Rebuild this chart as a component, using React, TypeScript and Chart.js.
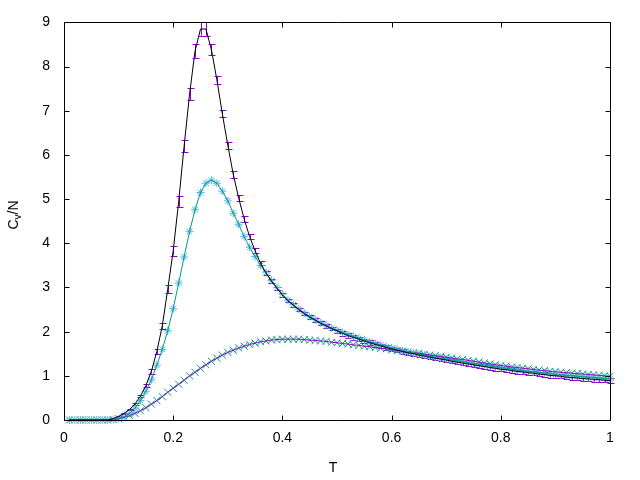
import React, { useEffect, useRef } from "react";
import { Chart, registerables } from "chart.js";

Chart.register(...registerables);

// Temperature grid (x values)
const T = [
  0.01, 0.02, 0.03, 0.04, 0.05, 0.06, 0.07, 0.08, 0.09, 0.1,
  0.11, 0.12, 0.13, 0.14, 0.15, 0.16, 0.17, 0.18, 0.19, 0.2,
  0.21, 0.22, 0.23, 0.24, 0.25, 0.26, 0.27, 0.28, 0.29, 0.3,
  0.31, 0.32, 0.33, 0.34, 0.35, 0.36, 0.37, 0.38, 0.39, 0.4,
  0.41, 0.42, 0.43, 0.44, 0.45, 0.46, 0.47, 0.48, 0.49, 0.5,
  0.51, 0.52, 0.53, 0.54, 0.55, 0.56, 0.57, 0.58, 0.59, 0.6,
  0.61, 0.62, 0.63, 0.64, 0.65, 0.66, 0.67, 0.68, 0.69, 0.7,
  0.71, 0.72, 0.73, 0.74, 0.75, 0.76, 0.77, 0.78, 0.79, 0.8,
  0.81, 0.82, 0.83, 0.84, 0.85, 0.86, 0.87, 0.88, 0.89, 0.9,
  0.91, 0.92, 0.93, 0.94, 0.95, 0.96, 0.97, 0.98, 0.99, 1.0,
];

// Series A: purple error bars, black curve
const cvA = [
  0, 0, 0, 0, 0, 0, 0, 0, 0.03, 0.08,
  0.15, 0.24, 0.36, 0.54, 0.78, 1.10, 1.55, 2.13, 2.96, 3.83,
  4.94, 6.20, 7.38, 8.35, 8.85, 8.85, 8.38, 7.70, 6.93, 6.22,
  5.56, 5.02, 4.55, 4.15, 3.83, 3.55, 3.33, 3.14, 2.98, 2.83,
  2.70, 2.60, 2.50, 2.41, 2.33, 2.26, 2.19, 2.13, 2.07, 2.02,
  1.96, 1.91, 1.87, 1.83, 1.79, 1.75, 1.71, 1.68, 1.64, 1.61,
  1.58, 1.55, 1.52, 1.50, 1.47, 1.45, 1.42, 1.40, 1.38, 1.36,
  1.33, 1.31, 1.29, 1.27, 1.25, 1.23, 1.21, 1.19, 1.17, 1.15,
  1.14, 1.12, 1.10, 1.09, 1.07, 1.06, 1.04, 1.03, 1.01, 1.00,
  0.99, 0.97, 0.96, 0.95, 0.94, 0.93, 0.92, 0.91, 0.90, 0.89,
];

const errA = [
  0, 0, 0, 0, 0, 0, 0, 0, 0.005, 0.01,
  0.015, 0.02, 0.025, 0.03, 0.04, 0.05, 0.06, 0.07, 0.09, 0.11,
  0.12, 0.13, 0.14, 0.15, 0.15, 0.15, 0.12, 0.09, 0.08, 0.08,
  0.075, 0.07, 0.065, 0.06, 0.055, 0.05, 0.05, 0.045, 0.04, 0.04,
  0.04, 0.04, 0.04, 0.04, 0.04, 0.04, 0.04, 0.04, 0.04, 0.04,
  0.05, 0.05, 0.05, 0.05, 0.05, 0.05, 0.05, 0.05, 0.05, 0.05,
  0.05, 0.05, 0.05, 0.05, 0.05, 0.05, 0.05, 0.05, 0.05, 0.05,
  0.05, 0.05, 0.05, 0.05, 0.05, 0.05, 0.05, 0.05, 0.05, 0.05,
  0.05, 0.05, 0.05, 0.05, 0.05, 0.05, 0.05, 0.05, 0.05, 0.05,
  0.05, 0.05, 0.05, 0.05, 0.05, 0.05, 0.05, 0.05, 0.05, 0.05,
];

// Series B: cyan asterisks, teal curve
const cvB = [
  0, 0, 0, 0, 0, 0, 0, 0, 0.01, 0.03,
  0.07, 0.15, 0.27, 0.44, 0.65, 0.91, 1.24, 1.60, 2.02, 2.52,
  3.10, 3.69, 4.27, 4.76, 5.15, 5.36, 5.43, 5.36, 5.18, 4.96,
  4.68, 4.43, 4.15, 3.91, 3.70, 3.50, 3.33, 3.16, 3.00, 2.85,
  2.71, 2.61, 2.51, 2.42, 2.34, 2.27, 2.20, 2.14, 2.08, 2.03,
  1.98, 1.93, 1.89, 1.85, 1.81, 1.77, 1.73, 1.70, 1.66, 1.63,
  1.60, 1.57, 1.54, 1.52, 1.49, 1.47, 1.44, 1.42, 1.40, 1.38,
  1.36, 1.34, 1.32, 1.30, 1.28, 1.26, 1.24, 1.22, 1.20, 1.18,
  1.17, 1.15, 1.13, 1.12, 1.10, 1.09, 1.07, 1.06, 1.05, 1.03,
  1.02, 1.01, 1.00, 0.99, 0.98, 0.97, 0.96, 0.95, 0.94, 0.93,
];

// Series C: green crosses, purple curve
const cvC = [
  0, 0, 0, 0, 0, 0, 0, 0, 0.01, 0.03,
  0.06, 0.10, 0.15, 0.21, 0.28, 0.36, 0.44, 0.53, 0.63, 0.72,
  0.81, 0.90, 1.00, 1.08, 1.17, 1.25, 1.33, 1.40, 1.47, 1.53,
  1.58, 1.63, 1.67, 1.71, 1.74, 1.77, 1.79, 1.81, 1.82, 1.83,
  1.83, 1.83, 1.83, 1.82, 1.81, 1.80, 1.79, 1.78, 1.76, 1.75,
  1.73, 1.72, 1.70, 1.69, 1.67, 1.66, 1.64, 1.62, 1.61, 1.59,
  1.57, 1.56, 1.54, 1.52, 1.51, 1.49, 1.47, 1.46, 1.44, 1.42,
  1.40, 1.38, 1.37, 1.35, 1.33, 1.31, 1.29, 1.27, 1.25, 1.23,
  1.22, 1.20, 1.19, 1.17, 1.16, 1.14, 1.13, 1.12, 1.10, 1.09,
  1.08, 1.07, 1.06, 1.05, 1.04, 1.03, 1.02, 1.01, 1.00, 0.99,
];

const xTicks = [0, 0.2, 0.4, 0.6, 0.8, 1];
const yTicks = [0, 1, 2, 3, 4, 5, 6, 7, 8, 9];

const FONT = '"Liberation Sans", Arial, sans-serif';
const PURPLE = "#9400D3";
const GREEN = "#009E73";
const CYAN = "#56B4E9";

const pts = (ys: number[]) => T.map((t, i) => ({ x: t, y: ys[i] }));

const errorBars = {
  id: "errorBars",
  beforeDatasetsDraw(chart: any) {
    const ctx = chart.ctx;
    const xs = chart.scales.x;
    const ys = chart.scales.y;
    ctx.save();
    ctx.strokeStyle = PURPLE;
    ctx.lineWidth = 1;
    for (let i = 0; i < T.length; i++) {
      const e = errA[i];
      const x = Math.round(xs.getPixelForValue(T[i])) + 0.5;
      const y0 = ys.getPixelForValue(cvA[i] - e);
      const y1 = ys.getPixelForValue(cvA[i] + e);
      ctx.beginPath();
      ctx.moveTo(x, y0);
      ctx.lineTo(x, y1);
      ctx.moveTo(x - 3, Math.round(y0) + 0.5);
      ctx.lineTo(x + 4, Math.round(y0) + 0.5);
      ctx.moveTo(x - 3, Math.round(y1) + 0.5);
      ctx.lineTo(x + 4, Math.round(y1) + 0.5);
      ctx.stroke();
    }
    ctx.restore();
  },
};

const frame = {
  id: "frame",
  afterDraw(chart: any) {
    const ctx = chart.ctx;
    const a = chart.chartArea;
    const xs = chart.scales.x;
    const ys = chart.scales.y;
    const L = Math.round(a.left) + 0.5;
    const R = Math.round(a.right) + 0.5;
    const Tp = Math.round(a.top) + 0.5;
    const B = Math.round(a.bottom) + 0.5;
    const tl = 5;
    ctx.save();
    ctx.strokeStyle = "#000";
    ctx.lineWidth = 1;
    ctx.beginPath();
    ctx.rect(L, Tp, R - L, B - Tp);
    for (const v of xTicks) {
      const x = Math.round(xs.getPixelForValue(v)) + 0.5;
      ctx.moveTo(x, B);
      ctx.lineTo(x, B - tl);
      ctx.moveTo(x, Tp);
      ctx.lineTo(x, Tp + tl);
    }
    for (const v of yTicks) {
      const y = Math.round(ys.getPixelForValue(v)) + 0.5;
      ctx.moveTo(L, y);
      ctx.lineTo(L + tl, y);
      ctx.moveTo(R, y);
      ctx.lineTo(R - tl, y);
    }
    ctx.stroke();

    // axis titles
    ctx.fillStyle = "#000";
    ctx.font = `14px ${FONT}`;
    ctx.textAlign = "center";
    ctx.textBaseline = "alphabetic";
    ctx.fillText("T", 333, 472);

    ctx.translate(18, 215);
    ctx.rotate(-Math.PI / 2);
    const big = `14px ${FONT}`;
    const small = `10px ${FONT}`;
    ctx.font = big;
    const wC = ctx.measureText("C").width;
    const wN = ctx.measureText("/N").width;
    ctx.font = small;
    const wv = ctx.measureText("v").width;
    let x = -(wC + wv + wN) / 2;
    ctx.textAlign = "left";
    ctx.font = big;
    ctx.fillText("C", x, 0);
    x += wC;
    ctx.font = small;
    ctx.fillText("v", x, 3);
    x += wv;
    ctx.font = big;
    ctx.fillText("/N", x, 0);
    ctx.restore();
  },
};

export default function App() {
  const ref = useRef<HTMLCanvasElement | null>(null);
  useEffect(() => {
    if (!ref.current) return;
    const chart = new Chart(ref.current, {
      type: "scatter",
      data: {
        datasets: [
          { label: "fit A", data: pts(cvA), showLine: true, borderColor: "#000", borderWidth: 1, pointRadius: 0, order: 0 },
          { label: "fit B", data: pts(cvB), showLine: true, borderColor: GREEN, borderWidth: 1, pointRadius: 0, order: 1 },
          { label: "fit C", data: pts(cvC), showLine: true, borderColor: PURPLE, borderWidth: 1, pointRadius: 0, order: 2 },
          { label: "B", data: pts(cvB), showLine: false, pointStyle: "star", pointRadius: 4, pointBorderColor: CYAN, pointBackgroundColor: CYAN, pointBorderWidth: 1, order: 3, clip: 8 } as any,
          { label: "C", data: pts(cvC), showLine: false, pointStyle: "crossRot", pointRadius: 5, pointBorderColor: GREEN, pointBackgroundColor: GREEN, pointBorderWidth: 1, order: 4, clip: 8 } as any,
        ],
      },
      options: {
        animation: false,
        responsive: false,
        maintainAspectRatio: false,
        layout: { padding: { left: 0, top: 20, right: 30, bottom: 0 } },
        plugins: { legend: { display: false }, tooltip: { enabled: false } },
        scales: {
          x: {
            type: "linear",
            min: 0,
            max: 1,
            afterBuildTicks: (s: any) => {
              s.ticks = xTicks.map((v) => ({ value: v }));
            },
            afterFit: (s: any) => {
              s.height = 60;
            },
            grid: { display: false, drawTicks: false },
            border: { display: false },
            ticks: {
              color: "#000",
              font: { family: FONT, size: 14 },
              padding: 10,
              maxRotation: 0,
              callback: (v: any) => String(Math.round(Number(v) * 10) / 10),
            },
          },
          y: {
            type: "linear",
            min: 0,
            max: 9,
            afterBuildTicks: (s: any) => {
              s.ticks = yTicks.map((v) => ({ value: v }));
            },
            afterFit: (s: any) => {
              s.width = 64;
            },
            grid: { display: false, drawTicks: false },
            border: { display: false },
            ticks: {
              color: "#000",
              font: { family: FONT, size: 14 },
              padding: 14,
              callback: (v: any) => String(v),
            },
          },
        },
      },
      plugins: [errorBars, frame],
    });
    return () => chart.destroy();
  }, []);
  return (
    <div style={{ position: "absolute", left: 0, top: 0, width: 640, height: 480, background: "#fff" }}>
      <canvas ref={ref} width={640} height={480} />
    </div>
  );
}
